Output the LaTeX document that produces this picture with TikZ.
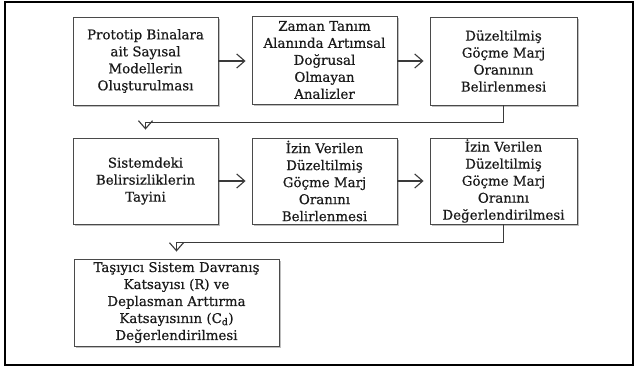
\documentclass[tikz,border=0pt]{standalone}
\usepackage{fontspec}
\setmainfont{DejaVu Serif}[FakeBold=0.5]
\usetikzlibrary{arrows.meta,shadows}
\definecolor{txt}{HTML}{1A1A1A}
\definecolor{edge}{HTML}{4A4A4A}
\definecolor{conn}{HTML}{3A3A3A}
\tikzset{
  stepbox/.style={draw=edge, line width=0.9pt, fill=white, align=center,
    minimum width=145pt, minimum height=88pt, inner sep=0pt, text=txt,
    font=\fontsize{13.4}{17}\selectfont,
    drop shadow={shadow xshift=1.6pt, shadow yshift=-1.8pt, fill=black!45, opacity=0.55}},
  arr/.style={draw=conn, line width=1.1pt, -{Straight Barb[length=8pt,width=14pt,line width=1.1pt]}},
}
\begin{document}
\begin{tikzpicture}[x=1pt,y=-1pt]
\useasboundingbox (0,0) rectangle (642,369);
\fill[white] (0,0) rectangle (642,369);
\draw[line width=2pt] (4.8,2.5) rectangle (633,365);

\node[stepbox] (b1) at (145.5,61) {Prototip Binalara\\ait Sayısal\\Modellerin\\Oluşturulması};
\node[stepbox] (b2) at (324.5,60) {Zaman Tanım\\Alanında Artımsal\\Doğrusal\\Olmayan\\Analizler};
\node[stepbox, minimum width=147pt] (b3) at (503.5,61) {Düzeltilmiş\\Göçme Marj\\Oranının\\Belirlenmesi};

\node[stepbox, minimum height=86pt] (b4) at (145.5,181) {Sistemdeki\\Belirsizliklerin\\Tayini};
\node[stepbox, minimum height=86pt] (b5) at (324.5,181) {İzin Verilen\\Düzeltilmiş\\Göçme Marj\\Oranını\\Belirlenmesi};
\node[stepbox, minimum width=147pt, minimum height=86pt] (b6) at (503.5,181) {İzin Verilen\\Düzeltilmiş\\Göçme Marj\\Oranını\\Değerlendirilmesi};

\node[stepbox, minimum width=205pt, minimum height=87pt] (b7) at (176.5,302.5) {Taşıyıcı Sistem Davranış\\Katsayısı (R) ve\\Deplasman Arttırma\\Katsayısının (C\textsubscript{d})\\Değerlendirilmesi};

\draw[arr, shorten >=6pt] (b1.east) -- (b2.west |- b1.east);
\draw[arr, shorten >=6pt] (b2.east |- b3.west) -- (b3.west);
\draw[arr, shorten >=6pt] (b4.east) -- (b5.west);
\draw[arr, shorten >=6pt] (b5.east) -- (b6.west);

\draw[arr, shorten >=8pt] (b3.south) -- ++(0,17) -| (b4.north);
\draw[arr, shorten >=7pt] (b6.south) -- ++(0,18) -| (b7.north);
\end{tikzpicture}
\end{document}
